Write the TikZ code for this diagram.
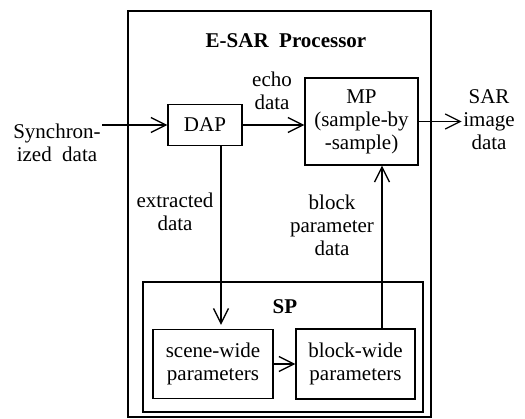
\documentclass[tikz,border=0pt]{standalone}
\usepackage{fontspec}
\setmainfont{Liberation Serif}
\usetikzlibrary{arrows.meta}

\tikzset{
  unit/.style={rectangle, draw, align=center, inner sep=2pt},
  frame/.style={rectangle, draw},
  lbl/.style={align=center, inner sep=1pt}
}

\begin{document}
\begin{tikzpicture}[x=1pt, y=-1pt,
  font=\fontsize{21}{23}\selectfont,
  line width=1.3pt,
  >={Straight Barb[length=15pt,width=15pt]}]
  \useasboundingbox (0,0) rectangle (525,419);

  \node[frame, minimum width=303pt, minimum height=406pt] (esar) at (279.5,214) {};
  \node[font=\fontsize{21}{23}\selectfont\bfseries] (title) at (286,41) {E-SAR\ \ Processor};

  \node[unit, minimum width=74pt, minimum height=41pt] (dap) at (205,125) {DAP};
  \node[unit, minimum width=113pt, minimum height=87pt] (mp) at (361.5,121.5)
    {MP\\(sample-by\\-sample)};

  \node[lbl] (sync) at (57,143) {Synchron-\\ized\ \ data};
  \node[lbl] (sar) at (489,120) {SAR\\image\\data};
  \node[lbl] (echo) at (272,91) {echo\\data};

  \node[frame, minimum width=280pt, minimum height=130pt] (sp) at (283,347) {};
  \node[font=\fontsize{21}{23}\selectfont\bfseries] (sptitle) at (285,307) {SP};
  \node[unit, minimum width=120pt, minimum height=69pt] (scene) at (213,364)
    {scene-wide\\parameters};
  \node[unit, minimum width=119pt, minimum height=70pt] (block) at (355.5,364)
    {block-wide\\parameters};

  \node[lbl] (extr) at (175,212) {extracted\\data};
  \node[lbl] (bpd) at (332,225) {block\\parameter\\data};

  \draw[->] (sync.east |- dap.west) -- (dap.west);
  \draw[->] (dap.east) -- (dap.east -| mp.west);
  \draw[->] (mp.east) -- (sar.west |- mp.east);
  \draw[->, shorten >=4pt] ([xshift=16pt]dap.south) -- ([xshift=16pt]dap.south |- scene.north);
  \draw[->] (scene.east) -- (block.west);
  \draw[->] ([xshift=26.5pt]block.north) -- ([xshift=26.5pt]block.north |- mp.south);
\end{tikzpicture}
\end{document}
